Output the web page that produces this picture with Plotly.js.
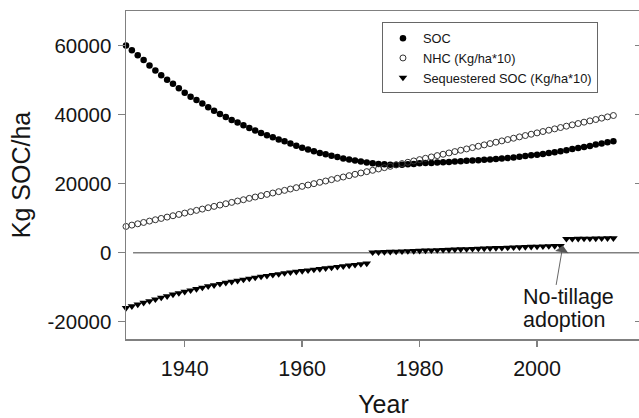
<!DOCTYPE html>
<html>
<head>
<meta charset="utf-8">
<script src="https://cdn.plot.ly/plotly-3.0.1.min.js"></script>
<style>
html, body { margin: 0; padding: 0; overflow: hidden; background: #fff; }
#chart { width: 642px; height: 418px; }
</style>
</head>
<body>
<div id="chart"></div>
<script>
// Years (annual points)
const years = [1930,1931,1932,1933,1934,1935,1936,1937,1938,1939,
  1940,1941,1942,1943,1944,1945,1946,1947,1948,1949,
  1950,1951,1952,1953,1954,1955,1956,1957,1958,1959,
  1960,1961,1962,1963,1964,1965,1966,1967,1968,1969,
  1970,1971,1972,1973,1974,1975,1976,1977,1978,1979,
  1980,1981,1982,1983,1984,1985,1986,1987,1988,1989,
  1990,1991,1992,1993,1994,1995,1996,1997,1998,1999,
  2000,2001,2002,2003,2004,2005,2006,2007,2008,2009,
  2010,2011,2012,2013];

// SOC (Kg/ha)
const soc = [60000,58600,57200,55800,54200,52800,51400,50100,48900,47600,
  46300,45200,44200,43200,42100,41100,40200,39300,38400,37700,
  36900,36100,35400,34700,34000,33400,32800,32300,31600,31000,
  30400,29900,29400,28900,28500,28100,27700,27300,27000,26700,
  26400,26100,25900,25700,25600,25500,25500,25500,25600,25700,
  25900,26000,26000,26100,26200,26300,26400,26500,26600,26700,
  26800,26900,27000,27100,27300,27400,27600,27800,28000,28200,
  28400,28600,28900,29100,29400,29700,30000,30300,30600,30900,
  31300,31600,32000,32300];

// NHC (Kg/ha*10)
const nhc = [7600,7990,8370,8760,9150,9540,9920,10310,10700,11080,
  11470,11860,12250,12630,13020,13410,13790,14180,14570,14960,
  15340,15730,16120,16500,16890,17280,17670,18050,18440,18830,
  19210,19600,19990,20380,20760,21150,21540,21920,22310,22700,
  23090,23470,23860,24250,24630,25020,25410,25800,26180,26570,
  26960,27340,27730,28120,28510,28890,29280,29670,30050,30440,
  30830,31220,31600,31990,32380,32760,33150,33540,33930,34310,
  34700,35090,35470,35860,36250,36640,37020,37410,37800,38180,
  38570,38960,39340,39730];

// Sequestered SOC (Kg/ha*10)
const seq = [-16000,-15500,-15000,-14500,-14000,-13500,-13000,-12600,-12100,-11700,
  -11300,-10900,-10500,-10100,-9700,-9400,-9000,-8700,-8400,-8100,
  -7800,-7500,-7200,-6900,-6700,-6400,-6200,-5900,-5700,-5500,
  -5300,-5100,-4900,-4700,-4500,-4300,-4100,-3900,-3700,-3500,
  -3300,-3100,100,160,220,280,340,400,460,520,
  580,640,700,760,820,880,940,1000,1060,1120,
  1180,1240,1300,1360,1420,1480,1540,1600,1660,1720,
  1780,1840,1900,1950,2000,4000,4030,4050,4080,4100,
  4120,4150,4180,4200];

const yTicks = [-20000, 0, 20000, 40000, 60000];
const yTickText = ['-20000', '0', '20000', '40000', '60000'];
const xTicks = [1940, 1960, 1980, 2000];

const FONT = 'Arial, "Liberation Sans", sans-serif';
const AXIS_COL = '#808080';
const TXT = '#151515';

const traces = [
  { x: years, y: soc, name: 'SOC', mode: 'markers', type: 'scatter', cliponaxis: false,
    marker: { symbol: 'circle', size: 6.5, color: '#000' } },
  { x: years, y: nhc, name: 'NHC (Kg/ha*10)', mode: 'markers', type: 'scatter', cliponaxis: false,
    marker: { symbol: 'circle-open', size: 6, color: '#333', line: { width: 1, color: '#333' } } },
  { x: years, y: seq, name: 'Sequestered SOC (Kg/ha*10)', mode: 'markers', type: 'scatter', cliponaxis: false,
    marker: { symbol: 'triangle-down', size: 7.5, color: '#000' } },
  { x: years, y: nhc, yaxis: 'y2', mode: 'markers', type: 'scatter', showlegend: false,
    hoverinfo: 'skip', marker: { opacity: 0 } }
];

const layout = {
  width: 642, height: 418,
  margin: { l: 126, r: 1, t: 11, b: 79, pad: 0 },
  paper_bgcolor: '#fff', plot_bgcolor: '#fff',
  font: { family: FONT, size: 20, color: TXT },
  showlegend: true,
  legend: {
    x: 0.497, y: 0.965, xanchor: 'left', yanchor: 'top',
    bgcolor: '#fff', bordercolor: '#666', borderwidth: 1,
    font: { family: FONT, size: 12.8, color: TXT },
    tracegroupgap: 0
  },
  xaxis: {
    range: [1930, 2017.7],
    tickvals: xTicks, ticktext: xTicks.map(String),
    ticks: 'outside', ticklen: 6, tickwidth: 1.5, tickcolor: AXIS_COL,
    ticklabelstandoff: 4,
    showline: true, linecolor: AXIS_COL, linewidth: 1.5, mirror: true,
    showgrid: false, zeroline: false,
    tickfont: { family: FONT, size: 21.5, color: TXT },
    title: { text: 'Year', font: { family: FONT, size: 25, color: TXT }, standoff: 20 }
  },
  yaxis: {
    range: [-25000, 70000],
    tickvals: yTicks, ticktext: yTickText,
    ticks: 'outside', ticklen: 7, tickwidth: 1.5, tickcolor: AXIS_COL,
    ticklabelstandoff: 2,
    showline: true, linecolor: AXIS_COL, linewidth: 1.5, mirror: false,
    showgrid: false, zeroline: false,
    tickfont: { family: FONT, size: 20.5, color: TXT },
    title: { text: 'Kg SOC/ha', font: { family: FONT, size: 25, color: TXT }, standoff: 10 }
  },
  yaxis2: {
    overlaying: 'y', side: 'right', range: [-25000, 70000],
    tickvals: yTicks, showticklabels: false,
    ticks: 'inside', ticklen: 6, tickwidth: 1.5, tickcolor: AXIS_COL,
    showline: false, showgrid: false, zeroline: false
  },
  shapes: [
    { type: 'line', xref: 'x', yref: 'y', x0: 1931.2, x1: 2017.7, y0: 0, y1: 0,
      line: { color: AXIS_COL, width: 1.5 }, layer: 'below' }
  ],
  annotations: [
    { x: 2004.4, y: 2100, xref: 'x', yref: 'y', text: '', showarrow: true,
      ax: -7, ay: 41, arrowhead: 1, arrowsize: 2.5, arrowwidth: 0.9, arrowcolor: '#555' },
    { x: 2004.4, y: 2100, xref: 'x', yref: 'y', text: 'No-tillage',
      showarrow: false, xanchor: 'left', yanchor: 'middle', xshift: -42, yshift: -52,
      align: 'left', font: { family: FONT, size: 21.5, color: TXT } },
    { x: 2004.4, y: 2100, xref: 'x', yref: 'y', text: 'adoption',
      showarrow: false, xanchor: 'left', yanchor: 'middle', xshift: -42, yshift: -75,
      align: 'left', font: { family: FONT, size: 21.5, color: TXT } }
  ]
};

Plotly.newPlot('chart', traces, layout, { displayModeBar: false, staticPlot: true });
</script>
</body>
</html>
